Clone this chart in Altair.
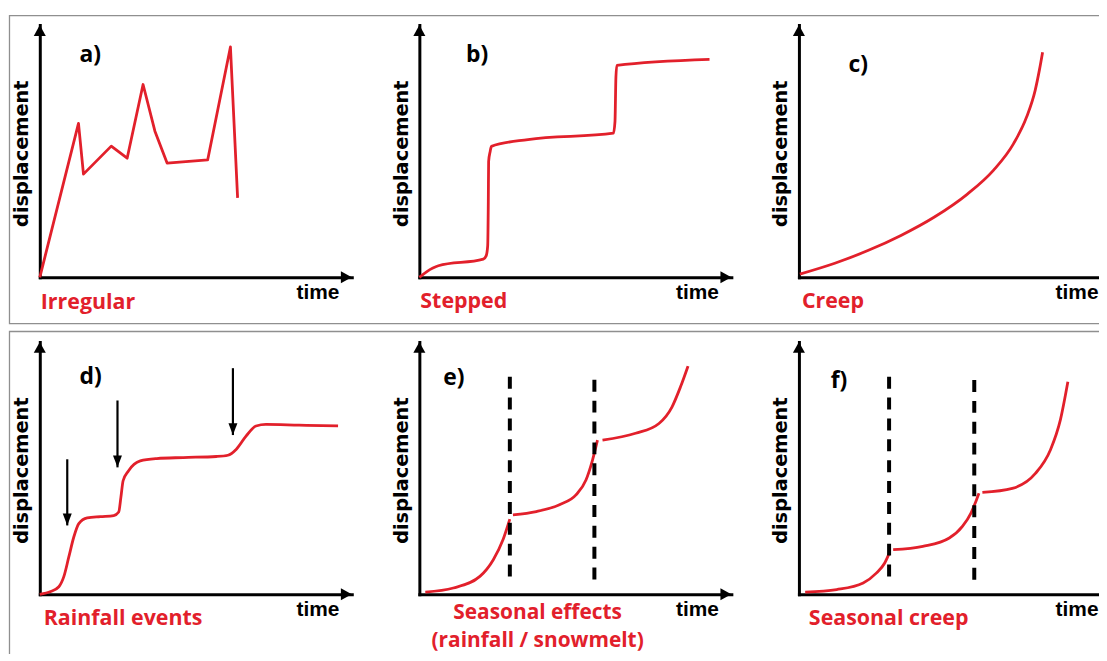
import altair as alt
import pandas as pd

# ---------------- data (time / displacement, both in % of axis length) -------------
PANEL_LETTERS = ["a)", "b)", "c)", "d)", "e)", "f)"]
CAPTIONS = ["Irregular", "Stepped", "Creep", "Rainfall events",
            ["Seasonal effects", "(rainfall / snowmelt)"], "Seasonal creep"]
X_TITLE = "time"
Y_TITLE = "displacement"

# a) Irregular
a_time = [0, 12.4, 14.0, 22.9, 28.0, 33.1, 36.9, 40.8, 53.8, 61.1, 63.4]
a_disp = [0, 61.0, 40.9, 52.0, 47.2, 76.4, 57.9, 45.3, 46.5, 91.3, 31.5]

# b) Stepped
b_time = [0, 2.3, 6.1, 20.5, 21.4, 21.9, 22.1, 22.2, 22.7, 23.1, 34.8, 62.2, 62.7, 63.0, 63.3, 93.0]
b_disp = [0, 2.2, 4.6, 7.2, 8.5, 12.5, 30.2, 45.9, 49.9, 51.9, 54.6, 57.1, 61.7, 79.4, 84.0, 86.4]

# c) Creep
c_time = [0.3, 11.5, 22.1, 32.7, 43.3, 53.9, 62.4, 68.8, 73.0, 75.7, 77.1, 78.1]
c_disp = [1.3, 5.6, 10.6, 16.6, 23.8, 32.9, 42.5, 53.0, 63.6, 74.0, 82.3, 89.2]

# d) Rainfall events
d_time = [0, 3.5, 6.1, 7.7, 9.3, 10.9, 12.5, 15.2, 19.4, 23.7, 25.3, 26.0, 26.7, 28.4,
          32.2, 37.5, 46.0, 56.6, 60.3, 63.0, 66.1, 69.3, 72.5, 83.1, 95.6]
d_disp = [0, 1.1, 3.0, 7.0, 14.8, 22.7, 28.0, 30.3, 30.8, 31.2, 32.6, 38.5, 45.0, 48.9,
          52.9, 53.8, 54.2, 54.6, 55.1, 57.5, 62.7, 66.7, 67.3, 67.0, 66.7]
rain_time = [8.8, 24.9, 61.9]
rain_top = [53.5, 76.8, 89.6]
rain_tip = [27.3, 50.3, 63.1]

# e) Seasonal effects (three seasons)
e_time = [[1.9, 10.9, 19.4, 23.7, 26.8, 29.0],
          [30.0, 37.5, 44.9, 50.2, 53.4, 55.5, 57.1],
          [58.7, 69.3, 76.8, 81.0, 83.7, 86.1]]
e_disp = [[0.9, 2.5, 7.1, 13.7, 21.6, 29.8],
          [31.5, 32.8, 35.5, 39.4, 45.3, 53.2, 61.1],
          [61.1, 63.8, 67.7, 74.3, 82.2, 90.4]]
e_season_time = [29.0, 56.1]
e_season_top = [86.2, 85.0]
e_season_bottom = [7.1, 5.9]

# f) Seasonal creep
f_time = [[2.0, 12.1, 20.6, 24.8, 27.5, 28.9],
          [30.2, 39.7, 48.2, 52.4, 55.1, 56.9, 57.7],
          [58.8, 68.4, 75.8, 80.6, 83.8, 86.2]]
f_disp = [[0.9, 1.9, 4.5, 8.4, 12.4, 16.1],
          [17.7, 19.0, 22.3, 26.9, 32.1, 37.4, 40.0],
          [40.4, 42.0, 47.9, 57.2, 69.1, 84.2]]
f_season_time = [28.9, 56.2]
f_season_top = [86.2, 84.9]
f_season_bottom = [7.1, 5.8]

# ---------------- styling / layout ----------------
RED = "#e2202b"
W, H = 314, 254
ARROW_UP = "M0,0L-1.1,2L1.1,2Z"
ARROW_RIGHT = "M0,0L-2,-1.1L-2,1.1Z"
ARROW_DOWN = "M0,0L-0.75,-2L0.75,-2Z"
LETTER_POS = [(40, 37), (47, 37), (50, 47), (40, 42), (24, 43), (32, 46)]
CAPTION_POS = [(1, 286), (1, 285), (3, 285), (4, 285), (119, 279), (10, 285)]
CAPTION_SIZE = [21.5, 21.5, 21.5, 21.5, 21, 21.5]
CAPTION_LINE_HEIGHT = 28

SCALE = alt.Scale(domain=[0, 100], nice=False, zero=False)
X_AXIS = alt.Axis(title=X_TITLE, domain=True, domainColor="black", domainWidth=3,
                  domainCap="square", ticks=False, labels=False, grid=False,
                  titleX=301, titleY=21, titleAlign="right", titleBaseline="alphabetic",
                  titleFont="Liberation Sans", titleFontSize=21, titleFontWeight="bold",
                  titleColor="black")
Y_AXIS = alt.Axis(title=Y_TITLE, domain=True, domainColor="black", domainWidth=3,
                  domainCap="square", ticks=False, labels=False, grid=False,
                  titleX=-12, titleY=H / 2 + 2, titleAngle=270, titleAlign="center",
                  titleBaseline="alphabetic", titleFont="DejaVu Sans", titleFontSize=19.5,
                  titleFontWeight="bold", titleColor="black")


def X(field):
    return alt.X(f"{field}:Q", scale=SCALE, axis=X_AXIS)


def Y(field):
    return alt.Y(f"{field}:Q", scale=SCALE, axis=Y_AXIS)


def curve_df(times, disps):
    if isinstance(times[0], list):
        rows = []
        for s, (ts, ds) in enumerate(zip(times, disps)):
            rows += [{"t": t, "d": d, "seg": s} for t, d in zip(ts, ds)]
        return pd.DataFrame(rows)
    return pd.DataFrame({"t": times, "d": disps, "seg": 0})


def panel(i, times, disps, interp, extra=None, box=None):
    line = alt.Chart(curve_df(times, disps)).mark_line(
        color=RED, strokeWidth=2.8, interpolate=interp, strokeJoin="round"
    ).encode(x=X("t"), y=Y("d"), detail="seg:N")

    heads = pd.DataFrame({"t": [0, 100], "d": [100, 0], "dir": ["up", "right"]})
    up = alt.Chart(heads[heads.dir == "up"]).mark_point(
        shape=ARROW_UP, size=121, filled=True, color="black", opacity=1, strokeWidth=0
    ).encode(x=X("t"), y=Y("d"))
    right = alt.Chart(heads[heads.dir == "right"]).mark_point(
        shape=ARROW_RIGHT, size=121, filled=True, color="black", opacity=1, strokeWidth=0
    ).encode(x=X("t"), y=Y("d"))

    lx, ly = LETTER_POS[i]
    letter = alt.Chart(pd.DataFrame({"label": [PANEL_LETTERS[i]]})).mark_text(
        font="Open Sans", fontSize=23, fontWeight="bold", color="black",
        align="left", baseline="alphabetic"
    ).encode(x=alt.value(lx), y=alt.value(ly), text="label:N")

    cx, cy = CAPTION_POS[i]
    cap = CAPTIONS[i]
    cap_mark = alt.Chart(pd.DataFrame({"k": [0]})).mark_text(
        font="Open Sans", fontSize=CAPTION_SIZE[i], fontWeight="bold", color=RED,
        align="center" if isinstance(cap, list) else "left",
        baseline="alphabetic", lineHeight=CAPTION_LINE_HEIGHT
    ).encode(x=alt.value(cx), y=alt.value(cy), text=alt.value(cap))

    layers = []
    if box is not None:
        bx, by, bx2, by2 = box
        layers.append(alt.Chart(pd.DataFrame({"k": [0]})).mark_rect(
            fill="transparent", stroke="#8f8f8f", strokeWidth=1.3
        ).encode(x=alt.value(bx), x2=alt.value(bx2), y=alt.value(by), y2=alt.value(by2)))
    layers += [line]
    if extra is not None:
        layers += extra
    layers += [up, right, letter, cap_mark]
    return alt.layer(*layers).properties(width=W, height=H)


def season_rules(ts, tops, bottoms):
    df = pd.DataFrame({"t": ts, "top": tops, "bottom": bottoms})
    return alt.Chart(df).mark_rule(
        color="black", strokeWidth=4, strokeDash=[12, 9]
    ).encode(x=X("t"), y=Y("top"), y2="bottom")


rain_df = pd.DataFrame({"t": rain_time, "top": rain_top, "tip": rain_tip})
rain_shafts = alt.Chart(rain_df).mark_rule(color="black", strokeWidth=2.2).encode(
    x=X("t"), y=Y("top"), y2="tip")
rain_heads = alt.Chart(rain_df).mark_point(
    shape=ARROW_DOWN, size=144, filled=True, color="black", opacity=1, strokeWidth=0
).encode(x=X("t"), y=Y("tip"))

# row frames (relative to the top-left of the first panel of each row)
pa = panel(0, a_time, a_disp, "linear", box=(-30.5, -9.5, 1086, 300.5))
pb = panel(1, b_time, b_disp, "monotone")
pc = panel(2, c_time, c_disp, "monotone")
pd_ = panel(3, d_time, d_disp, "monotone", extra=[rain_shafts, rain_heads],
            box=(-30.5, -10.5, 1086, 334))
pe = panel(4, e_time, e_disp, "monotone",
           extra=[season_rules(e_season_time, e_season_top, e_season_bottom)])
pf = panel(5, f_time, f_disp, "monotone",
           extra=[season_rules(f_season_time, f_season_top, f_season_bottom)])

chart = alt.concat(
    pa, pb, pc, pd_, pe, pf, columns=3,
    spacing=alt.RowColnumber(row=65, column=68), bounds="flush"
).properties(
    padding={"left": 0, "top": 4, "right": -22, "bottom": -24},
    background="white"
).configure_view(stroke="transparent")

chart.save("out.html", embed_options={"renderer": "svg", "actions": False})
